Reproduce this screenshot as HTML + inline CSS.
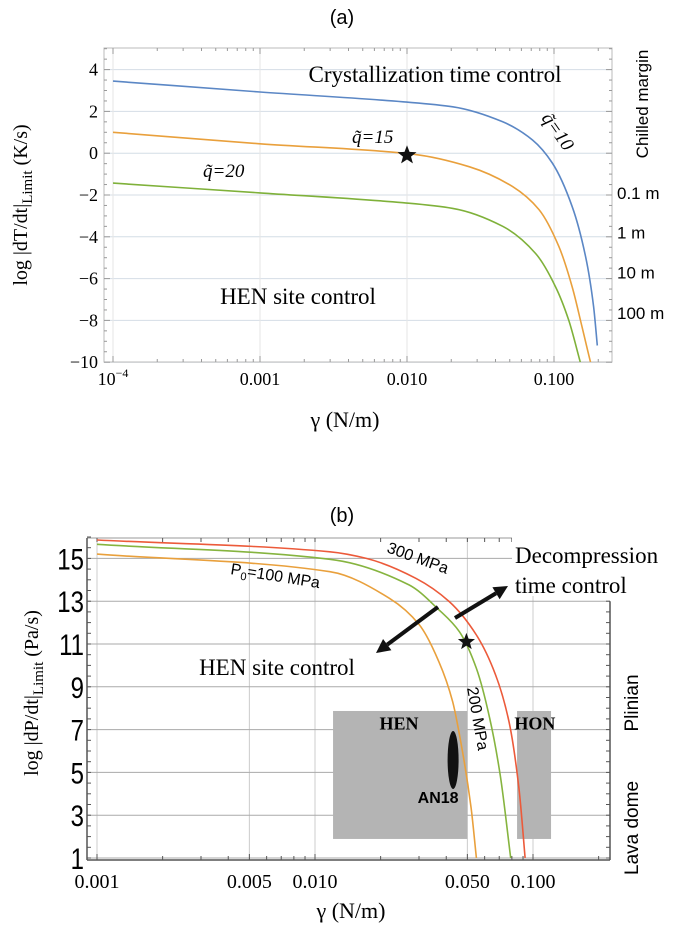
<!DOCTYPE html>
<html><head><meta charset="utf-8"><style>
html,body{margin:0;padding:0;background:#fff;}
svg{display:block;}
.serif{font-family:"Liberation Serif",serif;}
.sans{font-family:"Liberation Sans",sans-serif;}
</style></head><body>
<svg id="fig" width="685" height="925" viewBox="0 0 685 925" xmlns="http://www.w3.org/2000/svg">
<g id="a"></g>
<g id="b"></g>
</svg>
<script>
// ---------- Panel (a) data ----------
const aGamma = [0.0001,0.001,0.0094,0.0205,0.0448,0.0714,0.0974,0.133,0.164,0.186,0.197];
const aBlue = [3.45,2.93,2.46,2.22,1.5,0.63,-0.47,-2.56,-4.95,-7.34,-9.2];
const aGammaOrange = [0.0001,0.001,0.011,0.0266,0.0523,0.079,0.108,0.133,0.155,0.177];
const aOrange = [1.0,0.45,-0.05,-0.65,-1.6,-2.7,-4.47,-6.4,-8.3,-10];
const aGammaGreen = [0.0001,0.001,0.0094,0.0205,0.0448,0.075,0.1026,0.126,0.151];
const aGreen = [-1.43,-1.9,-2.37,-2.64,-3.5,-4.8,-6.4,-8,-10];
const aYTicks = [4,2,0,-2,-4,-6,-8,-10];
const aXTicks = [0.0001,0.001,0.01,0.1];
const aXLabels = ["10","0.001","0.010","0.100"];
const aRightLabels = ["0.1 m","1 m","10 m","100 m"];
const aRightVals = [-1.9,-3.8,-5.7,-7.65];
// ---------- Panel (b) data ----------
const bGammaRed = [0.001,0.0117,0.0172,0.029,0.0413,0.055,0.0674,0.0776,0.0862,0.092];
const bRed = [15.86,15.31,15.0,14.07,12.98,11.42,9.55,7.37,4.27,1];
const bGammaGreen = [0.001,0.0117,0.027,0.037,0.0459,0.055,0.0633,0.0707,0.079];
const bGreen = [15.66,14.96,13.76,12.6,11.58,9.86,7.53,4.88,1];
const bGammaOrange = [0.001,0.0117,0.022,0.0301,0.037,0.0428,0.0475,0.052,0.055];
const bOrange = [15.2,14.38,13.13,11.9,10.17,8.3,5.97,3.34,1];
const bYTicks = [15,13,11,9,7,5,3,1];
const bXTicks = [0.001,0.005,0.01,0.05,0.1];
const bXLabels = ["0.001","0.005","0.010","0.050","0.100"];
const bHenBox = [0.0121,0.050,1.89,7.87];
const bHonBox = [0.0845,0.121,1.89,7.87];
const bAN18 = [0.043,5.58];
const bStar = [0.0495,11.1];
const aStar = [0.01,-0.1];

const NS="http://www.w3.org/2000/svg";
function mk(parent,tag,attrs,text){const e=document.createElementNS(NS,tag);for(const k in attrs)e.setAttribute(k,attrs[k]);if(text!==undefined)e.textContent=text;parent.appendChild(e);return e;}
function smooth(p){const n=p.length;const dx=[],s=[];for(let i=0;i<n-1;i++){dx[i]=p[i+1][0]-p[i][0];s[i]=(p[i+1][1]-p[i][1])/dx[i];}
 const m=[s[0]];for(let i=1;i<n-1;i++){if(s[i-1]*s[i]<=0)m[i]=0;else{const w1=2*dx[i]+dx[i-1],w2=dx[i]+2*dx[i-1];m[i]=(w1+w2)/(w1/s[i-1]+w2/s[i]);}}m[n-1]=s[n-2];
 let d="M"+p[0][0].toFixed(1)+","+p[0][1].toFixed(1);
 for(let i=0;i<n-1;i++){const h=dx[i]/3;d+=" C"+(p[i][0]+h).toFixed(1)+","+(p[i][1]+m[i]*h).toFixed(1)+" "+(p[i+1][0]-h).toFixed(1)+","+(p[i+1][1]-m[i+1]*h).toFixed(1)+" "+p[i+1][0].toFixed(1)+","+p[i+1][1].toFixed(1);}
 return d;}
function star(cx,cy,r){let p=[];for(let i=0;i<10;i++){const a=-Math.PI/2+i*Math.PI/5,rr=i%2?r*0.42:r;p.push((cx+rr*Math.cos(a)).toFixed(1)+","+(cy+rr*Math.sin(a)).toFixed(1));}return p.join(" ");}

// ===== Panel A =====
const A=document.getElementById('a');
const axL=104,axR=612,axT=48,axB=362;
const ax=g=>113+147*Math.log10(g/0.0001);
const ay=v=>69.6-(v-4)*20.9;
let e=mk(A,'text',{x:342,y:24,'font-size':20,'text-anchor':'middle',class:'sans'},'(a)');

aYTicks.forEach(v=>{let l=mk(A,'line',{x1:axL,x2:axR,y1:ay(v),y2:ay(v),stroke:'#d4dde6','stroke-width':1});
 });
aXTicks.forEach(g=>{let l=mk(A,'line',{x1:ax(g),x2:ax(g),y1:axT,y2:axB,stroke:'#e6e6e6','stroke-width':1});
 });
e=mk(A,'rect',{x:axL,y:axT,width:axR-axL,height:axB-axT,fill:'none',stroke:'#bbb','stroke-width':1});

for(let d=-4;d<0;d++)for(let m=1;m<10;m++){const g=m*Math.pow(10,d);const x=ax(g);if(x>axR)break;
 mk(A,'line',{x1:x,x2:x,y1:axB,y2:axB-(m===1?6:3),stroke:'#999'});mk(A,'line',{x1:x,x2:x,y1:axT,y2:axT+(m===1?6:3),stroke:'#999'});}
for(let v=-10;v<=5;v+=0.5){mk(A,'line',{x1:axL,x2:axL+(v%2===0?6:3),y1:ay(v),y2:ay(v),stroke:'#999'});mk(A,'line',{x1:axR,x2:axR-(v%2===0?6:3),y1:ay(v),y2:ay(v),stroke:'#999'});}
aYTicks.forEach(v=>{let t=mk(A,'text',{x:axL-6,y:ay(v)+6,'font-size':18,'text-anchor':'end',class:'serif'},(v<0?'\u2212'+(-v):''+v));
 });
aXTicks.forEach((g,i)=>{let t=mk(A,'text',{x:ax(g),y:385,'font-size':18,'text-anchor':'middle',class:'serif'},aXLabels[i]);
 if(i===0){mk(t,'tspan',{dy:-8,'font-size':12},'\u22124');}
 });
aRightLabels.forEach((s,i)=>{let t=mk(A,'text',{x:617,y:ay(aRightVals[i])+6,'font-size':17,class:'sans'},s);
 });
e=mk(A,'text',{x:0,y:0,'font-size':17,class:'sans','text-anchor':'middle',transform:'translate(648,104) rotate(-90)'},'Chilled margin');

e=mk(A,'text',{x:0,y:0,'font-size':20,class:'serif','text-anchor':'middle',transform:'translate(27,205) rotate(-90)'},'log |dT/dt|');
mk(e,'tspan',{dy:5,'font-size':15},'Limit');mk(e,'tspan',{dy:-5},' (K/s)');

e=mk(A,'text',{x:345,y:427,'font-size':22,class:'serif','text-anchor':'middle'},'\u03b3   (N/m)');

const clipA=mk(A,'clipPath',{id:'clipA'});mk(clipA,'rect',{x:axL,y:axT,width:axR-axL,height:axB-axT});
[[aGamma,aBlue,'#5b87c5','q10'],[aGammaOrange,aOrange,'#e9a03c','q15'],[aGammaGreen,aGreen,'#7fb13a','q20']].forEach(s=>{
 let p=mk(A,'path',{d:smooth(s[0].map((g,i)=>[ax(g),ay(s[1][i])])),fill:'none',stroke:s[2],'stroke-width':1.6,'clip-path':'url(#clipA)'});
 });
e=mk(A,'polygon',{points:star(ax(aStar[0]),ay(aStar[1]),10),fill:'#111'});

e=mk(A,'text',{x:435,y:82,'font-size':23,class:'serif','text-anchor':'middle'},'Crystallization time control');

e=mk(A,'text',{x:298,y:304,'font-size':23,class:'serif','text-anchor':'middle'},'HEN site control');

e=mk(A,'text',{x:352,y:143,'font-size':19,class:'serif','font-style':'italic'},'q\u0303=15');

e=mk(A,'text',{x:203,y:177,'font-size':19,class:'serif','font-style':'italic'},'q\u0303=20');

e=mk(A,'text',{x:0,y:0,'font-size':19,class:'serif','font-style':'italic',transform:'translate(541,118) rotate(55)'},'q\u0303=10');


// ===== Panel B =====
const B=document.getElementById('b');
const bL=87,bR=610,bT=538,bB=860;
const bx=g=>97+218*Math.log10(g/0.001);
const by=v=>858-(v-1)*21.4;
e=mk(B,'text',{x:342,y:522,'font-size':20,'text-anchor':'middle',class:'sans'},'(b)');

bXTicks.forEach(g=>{let l=mk(B,'line',{x1:bx(g),x2:bx(g),y1:bT,y2:bB,stroke:'#ccc','stroke-width':1});
 });
bYTicks.forEach(v=>{let l=mk(B,'line',{x1:bL,x2:bR,y1:by(v),y2:by(v),stroke:'#aaa','stroke-width':1});
 });
mk(B,'line',{x1:bL,x2:bR,y1:bT,y2:bT,stroke:'#999'});
mk(B,'line',{x1:bL,x2:bR,y1:bB,y2:bB,stroke:'#555','stroke-width':1.5});
mk(B,'line',{x1:bL,x2:bL,y1:bT,y2:bB,stroke:'#555','stroke-width':1.5});
mk(B,'line',{x1:bR,x2:bR,y1:by(13),y2:bB,stroke:'#555','stroke-width':1.5});
for(let d=-3;d<0;d++)for(let m=1;m<10;m++){const g=m*Math.pow(10,d);const x=bx(g);if(x>bR)break;
 mk(B,'line',{x1:x,x2:x,y1:bB,y2:bB-(m===1||m===5?6:4),stroke:'#555'});mk(B,'line',{x1:x,x2:x,y1:bT,y2:bT+4,stroke:'#555'});}
for(let v=1;v<=16;v+=0.5){mk(B,'line',{x1:bL,x2:bL+4,y1:by(v),y2:by(v),stroke:'#555'});if(v<=13)mk(B,'line',{x1:bR,x2:bR-4,y1:by(v),y2:by(v),stroke:'#555'});}
[bHenBox,bHonBox].forEach((r,i)=>{let rc=mk(B,'rect',{x:bx(r[0]),y:by(r[3]),width:bx(r[1])-bx(r[0]),height:by(r[2])-by(r[3]),fill:'#b4b4b4'});
 });
e=mk(B,'text',{x:bx(0.0243),y:by(7.0),'font-size':18,'font-weight':'bold',class:'serif','text-anchor':'middle'},'HEN');

e=mk(B,'text',{x:bx(0.102),y:by(7.0),'font-size':18,'font-weight':'bold',class:'serif','text-anchor':'middle'},'HON');

const clipB=mk(B,'clipPath',{id:'clipB'});mk(clipB,'rect',{x:bL,y:bT,width:bR-bL,height:bB-bT});
[[bGammaRed,bRed,'#ec5a3a','300'],[bGammaGreen,bGreen,'#86b43f','200'],[bGammaOrange,bOrange,'#e9a03c','100']].forEach(s=>{
 let p=mk(B,'path',{d:smooth(s[0].map((g,i)=>[bx(g),by(s[1][i])])),fill:'none',stroke:s[2],'stroke-width':1.6,'clip-path':'url(#clipB)'});
 });
e=mk(B,'ellipse',{cx:bx(bAN18[0]),cy:by(bAN18[1]),rx:5.5,ry:29,fill:'#111'});

e=mk(B,'text',{x:bx(bAN18[0])-15,y:803,'font-size':16,'font-weight':'bold',class:'sans','text-anchor':'middle'},'AN18');

e=mk(B,'polygon',{points:star(bx(bStar[0]),by(bStar[1]),9),fill:'#111'});

mk(B,'rect',{x:512,y:530,width:173,height:66,fill:'#fff'});
e=mk(B,'text',{x:515,y:563,'font-size':23,class:'serif'},'Decompression');

e=mk(B,'text',{x:515,y:593,'font-size':23,class:'serif'},'time control');

e=mk(B,'text',{x:277,y:675,'font-size':23,class:'serif','text-anchor':'middle'},'HEN site control');

function arrow(x1,y1,x2,y2,name){const g=mk(B,'g',{});
 const a=Math.atan2(y2-y1,x2-x1),L=14,W=7;const bx2=x2-L*Math.cos(a),by2=y2-L*Math.sin(a);
 mk(g,'line',{x1:x1,y1:y1,x2:bx2,y2:by2,stroke:'#111','stroke-width':4});
 mk(g,'polygon',{points:`${x2},${y2} ${bx2-W*Math.sin(a)},${by2+W*Math.cos(a)} ${bx2+W*Math.sin(a)},${by2-W*Math.cos(a)}`,fill:'#111'});}
arrow(438,607,376,653,'b-arrow-hen');arrow(455,618,508,586,'b-arrow-decompression');
e=mk(B,'text',{x:0,y:0,'font-size':16,class:'sans',transform:'translate(230,574) rotate(9)'},'P');
mk(e,'tspan',{dy:4,'font-size':11},'0');mk(e,'tspan',{dy:-4},'=100 MPa');

e=mk(B,'text',{x:0,y:0,'font-size':16,class:'sans',transform:'translate(386,552) rotate(20)'},'300 MPa');

e=mk(B,'text',{x:0,y:0,'font-size':16,class:'sans',transform:'translate(467,688) rotate(80)'},'200 MPa');

bYTicks.forEach(v=>{let t=mk(B,'text',{x:0,y:0,'font-size':30,'text-anchor':'end',class:'sans',transform:`translate(${bL-3},${by(v)+11}) scale(0.8,1)`},''+v);
 });
bXTicks.forEach((g,i)=>{let t=mk(B,'text',{x:bx(g),y:888,'font-size':20,'text-anchor':'middle',class:'serif'},bXLabels[i]);
 });
e=mk(B,'text',{x:0,y:0,'font-size':20,class:'serif','text-anchor':'middle',transform:'translate(38,693) rotate(-90)'},'log |dP/dt|');
mk(e,'tspan',{dy:5,'font-size':15},'Limit');mk(e,'tspan',{dy:-5},' (Pa/s)');

e=mk(B,'text',{x:351,y:918,'font-size':22,class:'serif','text-anchor':'middle'},'\u03b3   (N/m)');

e=mk(B,'text',{x:0,y:0,'font-size':19,class:'sans','text-anchor':'middle',transform:'translate(638,703) rotate(-90)'},'Plinian');

e=mk(B,'text',{x:0,y:0,'font-size':19,class:'sans','text-anchor':'middle',transform:'translate(638,828) rotate(-90)'},'Lava dome');

</script>
</body></html>
